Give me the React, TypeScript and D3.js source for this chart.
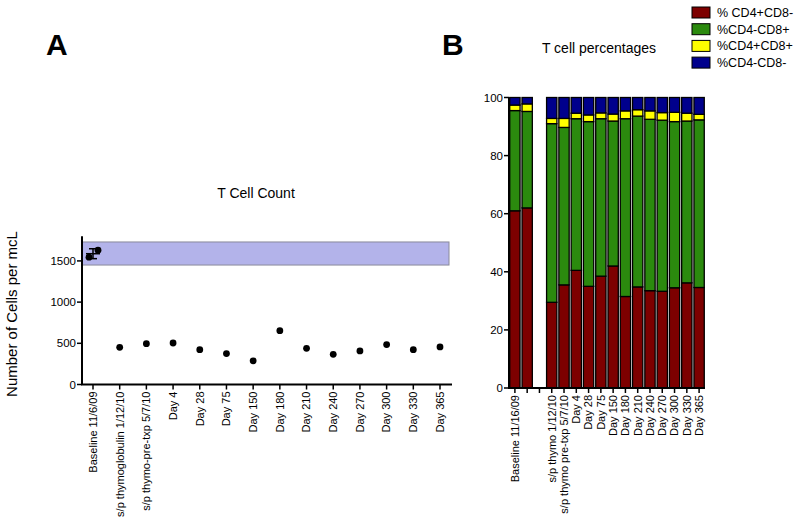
import React from "react";
import * as d3 from "d3";

// ---------- Panel A data ----------
const countCategories = [
  "Baseline 11/6/09",
  "s/p thymoglobulin 1/12/10",
  "s/p thymo-pre-txp 5/7/10",
  "Day 4",
  "Day 28",
  "Day 75",
  "Day 150",
  "Day 180",
  "Day 210",
  "Day 240",
  "Day 270",
  "Day 300",
  "Day 330",
  "Day 365",
];
const baselineReplicates = [1545, 1630];
const countValues = [null, 451, 496, 504, 423, 375, 287, 653, 439, 366, 407, 484, 423, 456];
const countTicks = [0, 500, 1000, 1500];
const normalRange = [1450, 1730];

// ---------- Panel B data ----------
const pctCategories = [
  "Baseline 11/16/09",
  "",
  "",
  "s/p thymo 1/12/10",
  "s/p thymo pre-txp 5/7/10",
  "Day 4",
  "Day 28",
  "Day 75",
  "Day 150",
  "Day 180",
  "Day 210",
  "Day 240",
  "Day 270",
  "Day 300",
  "Day 330",
  "Day 365",
];
const cd4pos = [61, 62, null, 29.5, 35.5, 40.5, 35, 38.5, 42, 31.5, 34.8, 33.5, 33.3, 34.5, 36.2, 34.6];
const cd8pos = [34.5, 33.2, null, 61.5, 54.2, 52.2, 56.7, 54.2, 49.9, 61.2, 58.8, 59, 58.9, 57.2, 55.7, 57.7];
const dblPos = [1.9, 2.6, null, 1.8, 3.1, 1.9, 2.3, 2.0, 2.4, 2.7, 2.2, 2.9, 2.6, 3.2, 2.7, 1.9];
const dblNeg = [2.6, 2.2, null, 7.2, 7.2, 5.4, 6.0, 5.3, 5.7, 4.6, 4.2, 4.6, 5.2, 5.1, 5.4, 5.8];
const pctTicks = [0, 20, 40, 60, 80, 100];
const seriesNames = ["% CD4+CD8-", "%CD4-CD8+", "%CD4+CD8+", "%CD4-CD8-"];
const seriesColors = ["#7d0000", "#2b8a0e", "#ffff00", "#00008c"];

const FONT = "'Liberation Sans', Arial, Helvetica, sans-serif";

export default function App() {
  // Panel A scales
  const xA = d3.scalePoint<string>().domain(countCategories).range([93, 440]);
  const yA = d3.scaleLinear().domain([0, 1800]).range([384.5, 236.2]);
  const axA = { left: 82, right: 452 };

  const bx = xA(countCategories[0]) as number;
  const bMean = d3.mean(baselineReplicates) as number;
  const bSd = d3.deviation(baselineReplicates) as number;

  // Panel B scales
  const xB = d3
    .scaleBand<number>()
    .domain(pctCategories.map((_, i) => i))
    .range([509, 705])
    .paddingInner(0.16)
    .paddingOuter(0.06);
  const yB = d3.scaleLinear().domain([0, 100]).range([388, 97.5]);
  const series = [cd4pos, cd8pos, dblPos, dblNeg];

  const stacks: { i: number; s: number; y0: number; y1: number }[] = [];
  pctCategories.forEach((_, i) => {
    let acc = 0;
    series.forEach((arr, s) => {
      const v = arr[i];
      if (v == null) return;
      stacks.push({ i, s, y0: acc, y1: acc + v });
      acc += v;
    });
  });

  return (
    <svg
      width={800}
      height={528}
      style={{ position: "absolute", left: 0, top: 0, background: "#fff" }}
      fontFamily={FONT}
    >
      {/* Panel letters */}
      <text x={46} y={55} fontSize={30} fontWeight="bold">A</text>
      <text x={442} y={55} fontSize={30} fontWeight="bold">B</text>

      {/* ---------- Panel A ---------- */}
      <text x={256} y={198} fontSize={14} textAnchor="middle">T Cell Count</text>
      <text
        transform={`translate(17,${314}) rotate(-90)`}
        fontSize={15}
        textAnchor="middle"
      >
        Number of Cells per mcL
      </text>
      {/* normal range band */}
      <rect
        x={axA.left}
        y={yA(normalRange[1])}
        width={449 - axA.left}
        height={yA(normalRange[0]) - yA(normalRange[1])}
        fill="#b3b3ea"
        stroke="#8a8a9a"
        strokeWidth={1}
      />
      {/* axes */}
      <line x1={axA.left} x2={axA.left} y1={yA(1800)} y2={yA(0)} stroke="#000" strokeWidth={2} />
      <line x1={axA.left - 1} x2={axA.right} y1={yA(0)} y2={yA(0)} stroke="#000" strokeWidth={2} />
      {countTicks.map((t) => (
        <g key={t}>
          <line x1={axA.left - 5} x2={axA.left} y1={yA(t)} y2={yA(t)} stroke="#000" strokeWidth={1.5} />
          <text x={axA.left - 6} y={yA(t)} dy="0.35em" fontSize={11.5} textAnchor="end">{t}</text>
        </g>
      ))}
      {countCategories.map((c) => {
        const x = xA(c) as number;
        return (
          <g key={c}>
            <line x1={x} x2={x} y1={yA(0)} y2={yA(0) + 5} stroke="#000" strokeWidth={1.5} />
            <text
              transform={`translate(${x},${yA(0) + 7}) rotate(-90)`}
              dy="0.35em"
              fontSize={11}
              textAnchor="end"
            >
              {c}
            </text>
          </g>
        );
      })}
      {/* baseline replicates with mean ± SD */}
      <line x1={bx - 7} x2={bx + 7} y1={yA(bMean)} y2={yA(bMean)} stroke="#000" strokeWidth={1.5} />
      <line x1={bx} x2={bx} y1={yA(bMean + bSd)} y2={yA(bMean - bSd)} stroke="#000" strokeWidth={1.5} />
      <line x1={bx - 4} x2={bx + 4} y1={yA(bMean + bSd)} y2={yA(bMean + bSd)} stroke="#000" strokeWidth={1.5} />
      <line x1={bx - 4} x2={bx + 4} y1={yA(bMean - bSd)} y2={yA(bMean - bSd)} stroke="#000" strokeWidth={1.5} />
      {baselineReplicates.map((v, k) => (
        <circle key={k} cx={bx + (k === 0 ? -4 : 5)} cy={yA(v)} r={3.4} fill="#000" />
      ))}
      {countValues.map((v, i) =>
        v == null ? null : (
          <circle key={i} cx={xA(countCategories[i]) as number} cy={yA(v)} r={3.4} fill="#000" />
        )
      )}

      {/* ---------- Panel B ---------- */}
      <text x={599} y={53} fontSize={14} textAnchor="middle">T cell percentages</text>
      {/* legend */}
      {seriesNames.map((n, k) => (
        <g key={n}>
          <rect x={692} y={7 + k * 16.7} width={18} height={11} fill={seriesColors[k]} stroke="#000" strokeWidth={1} />
          <text x={717} y={12.5 + k * 16.7} dy="0.35em" fontSize={12.5}>{n}</text>
        </g>
      ))}
      {stacks.map((d, k) => (
        <rect
          key={k}
          x={xB(d.i) as number}
          y={yB(d.y1)}
          width={xB.bandwidth()}
          height={yB(d.y0) - yB(d.y1)}
          fill={seriesColors[d.s]}
          stroke="#000"
          strokeWidth={1.3}
        />
      ))}
      <line x1={509} x2={509} y1={yB(100)} y2={yB(0)} stroke="#000" strokeWidth={2} />
      <line x1={508} x2={705} y1={yB(0)} y2={yB(0)} stroke="#000" strokeWidth={2} />
      {pctTicks.map((t) => (
        <g key={t}>
          <line x1={504} x2={509} y1={yB(t)} y2={yB(t)} stroke="#000" strokeWidth={1.5} />
          <text x={503} y={yB(t)} dy="0.35em" fontSize={11.5} textAnchor="end">{t}</text>
        </g>
      ))}
      {pctCategories.map((c, i) => {
        const x = (xB(i) as number) + xB.bandwidth() / 2;
        return (
          <g key={i}>
            <line x1={x} x2={x} y1={yB(0)} y2={yB(0) + 5} stroke="#000" strokeWidth={1.5} />
            {c && (
              <text
                transform={`translate(${x},${yB(0) + 7}) rotate(-90)`}
                dy="0.35em"
                fontSize={11}
                textAnchor="end"
              >
                {c}
              </text>
            )}
          </g>
        );
      })}
    </svg>
  );
}
